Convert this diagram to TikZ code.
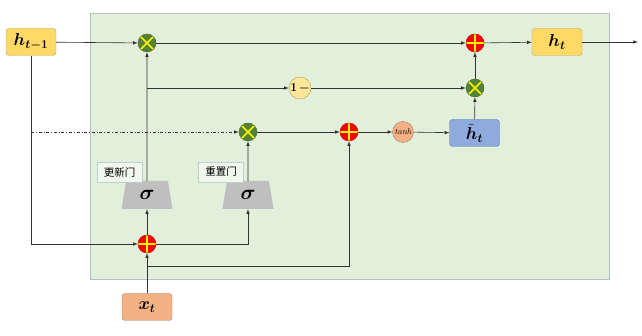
\documentclass[tikz,border=0pt]{standalone}
\usepackage{amsmath, amssymb, bm}
\usepackage{fontspec}
\newfontfamily\cjk{Noto Sans CJK SC}
\usetikzlibrary{shapes.geometric,calc}
\definecolor{cellfill}{RGB}{226,239,218}
\definecolor{cellline}{RGB}{175,195,195}
\definecolor{hyellow}{RGB}{255,217,102}
\definecolor{hline}{RGB}{185,160,95}
\definecolor{tilblue}{RGB}{143,170,220}
\definecolor{tilline}{RGB}{100,125,175}
\definecolor{salmon}{RGB}{244,177,131}
\definecolor{salline}{RGB}{160,130,115}
\definecolor{paleyel}{RGB}{255,230,153}
\definecolor{multgreen}{RGB}{84,130,53}
\definecolor{gategray}{RGB}{191,191,191}
\tikzstyle{state} = [rectangle, rounded corners=3pt, minimum width=50pt, minimum height=27pt, inner sep=0pt, text centered, draw=hline, fill=hyellow, font=\fontsize{17.28}{19}\selectfont]
\tikzstyle{tag} = [rectangle, minimum width=45pt, minimum height=20pt, inner sep=1pt, draw=cellline!80, fill=cellfill!50, font=\cjk\fontsize{10.5}{12}\selectfont]
\tikzstyle{arrow} = [->,>=latex, line width=0.6pt, draw=black!80]
\tikzset{
  mult/.style={
    circle, minimum size=18pt, inner sep=0pt,
    fill=multgreen, draw=multgreen!80!black, line width=0.4pt,
    path picture={
      \draw[yellow, line width=1.6pt] (path picture bounding box.north west) -- (path picture bounding box.south east)
        (path picture bounding box.north east) -- (path picture bounding box.south west);
    }
  },
  plus/.style={
    circle, minimum size=18pt, inner sep=0pt,
    fill=red, draw=red!70!black, line width=0.4pt,
    path picture={
      \draw[yellow, line width=1.6pt] (path picture bounding box.north) -- (path picture bounding box.south)
        (path picture bounding box.east) -- (path picture bounding box.west);
    }
  },
  gate/.style={
    trapezium, trapezium left angle=80, trapezium right angle=80,
    trapezium stretches=true, minimum width=51pt, minimum height=28pt, inner sep=0pt,
    fill=gategray, font=\fontsize{20.74}{23}\selectfont
  }
}

\begin{document}
\begin{tikzpicture}[x=1pt,y=-1pt]
    \useasboundingbox (0,0) rectangle (642,336);
    % cell
    \draw[draw=cellline, fill=cellfill] (90,13) rectangle (609,279);
    % states
    \node (hprev)[state] at (31,42) {$\bm{h_{t-1}}$};
    \node (ht)[state] at (557,42) {$\bm{h_t}$};
    \node (htil)[state, fill=tilblue, draw=tilline] at (474.5,133) {$\tilde{\bm{h}}_{\bm{t}}$};
    \node (xt)[state, fill=salmon, draw=salline] at (147,307) {$\bm{x_t}$};
    % gates
    \node (g1)[gate] at (147,195) {$\bm{\sigma}$};
    \node (g2)[gate] at (248,195) {$\bm{\sigma}$};
    \node (lu)[tag] at (119.5,172) {更新门};
    \node (lr)[tag] at (221,172) {重置门};
    % operators
    \node (m1)[mult] at (147,43) {};
    \node (m2)[mult] at (248,132) {};
    \node (m3)[mult] at (475,88) {};
    \node (p0)[plus] at (147,244) {};
    \node (p1)[plus] at (349,132) {};
    \node (p2)[plus] at (475,43) {};
    \node (om)[circle, minimum size=22pt, inner sep=0pt, draw=hline, fill=paleyel, font=\bfseries\fontsize{12}{13}\selectfont] at (300,88) {1\,$\bm{-}$};
    \node (th)[circle, minimum size=21pt, inner sep=0pt, draw=salline, fill=salmon, font=\itshape\fontsize{8.5}{9}\selectfont] at (403,132) {tanh};
    \coordinate (out) at (638,42);
    \coordinate (b1) at (147,88);
    \coordinate (b2) at (147,266);
    \coordinate (dd) at (31,132);
    % connectors
    \draw[arrow] (hprev) -- (m1);
    \draw[arrow] (m1) -- (p2);
    \draw[arrow] (p2) -- (ht);
    \draw[arrow] (ht) -- (out);
    \draw[arrow] (g1) -- (m1);
    \draw[arrow] (b1) -- (om);
    \draw[arrow] (om) -- (m3);
    \draw[arrow] (htil) -- (m3);
    \draw[arrow] (m3) -- (p2);
    \draw[arrow, dash dot] (dd) -- (m2);
    \draw[arrow] (g2) -- (m2);
    \draw[arrow] (m2) -- (p1);
    \draw[arrow] (p1) -- (th);
    \draw[arrow] (th) -- (htil);
    \draw[arrow] (hprev) |- (p0);
    \draw[arrow] (p0) -- (g1);
    \draw[arrow] (p0) -| (g2);
    \draw[arrow] (xt) -- (p0);
    \draw[arrow] (b2) -| (p1);
  \end{tikzpicture}
\end{document}
